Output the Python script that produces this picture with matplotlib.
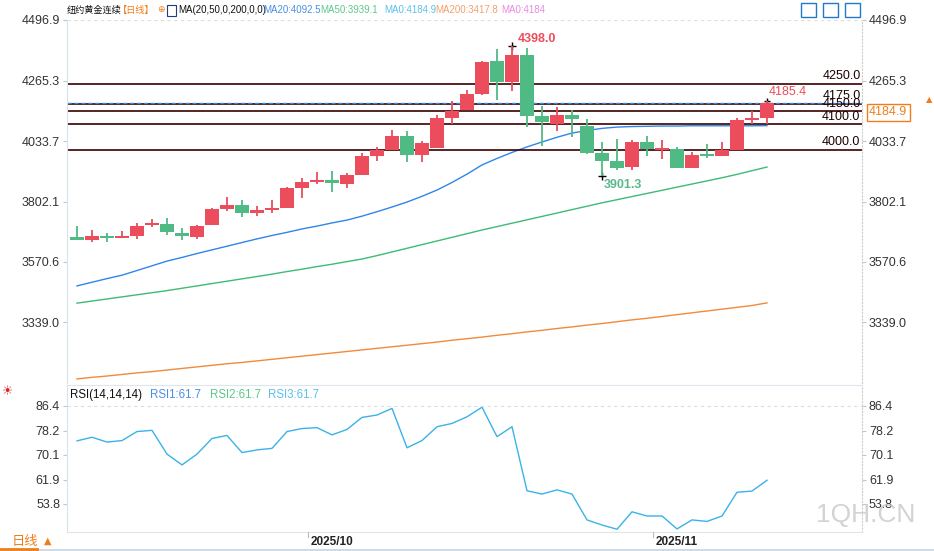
import matplotlib
matplotlib.use("Agg")
import matplotlib.pyplot as plt
from matplotlib import font_manager as fm
import numpy as np

cjk_files = [f for f in fm.findSystemFonts() if "CJK" in f or "cjk" in f.lower()]
cjk_files.sort(key=lambda f: ("Bold" in f or "Black" in f, "Regular" not in f, "SC" not in f, f))
CJKP = fm.FontProperties(fname=cjk_files[0]) if cjk_files else fm.FontProperties(family="Noto Sans CJK SC")
plt.rcParams["font.family"] = ["Liberation Sans", "DejaVu Sans"]

opens  = [3666,3655,3669,3662,3671,3712,3716,3681,3666,3712,3773,3789,3758,3770,3777,3854,3877,3884,3869,3903,
          3976,3999,4053,3980,4007,4122,4152,4214,4340,4260,4363,4130,4099,4133,4091,3988,3957,3934,4030,3999,
          4003,3930,3984,3976,3999,4114,4122]
closes = [3656,3669,3662,3669,3708,3720,3685,3670,3708,3773,3789,3758,3770,3777,3854,3877,3884,3873,3903,3976,
          3999,4053,3980,4026,4122,4149,4214,4337,4260,4363,4130,4107,4133,4118,3988,3957,3930,4030,4003,4007,
          3930,3980,3976,3999,4114,4122,4180]
highs  = [3708,3692,3681,3688,3720,3735,3739,3700,3712,3777,3819,3808,3785,3808,3857,3892,3915,3919,3911,3988,
          4011,4076,4072,4034,4133,4187,4229,4340,4386,4398,4390,4168,4164,4152,4118,4030,4041,4038,4053,4038,
          4011,3992,4022,4030,4122,4149,4185.4]
lows   = [3655,3648,3648,3662,3658,3704,3674,3655,3658,3712,3766,3743,3747,3758,3777,3816,3869,3838,3854,3903,
          3957,3999,3953,3953,4007,4099,4152,4210,4191,4225,4087,4015,4072,4049,3984,3901.3,3923,3923,3976,3965,
          3930,3930,3969,3976,3999,4099,4099]
ma20 = [3479,3493,3507,3520,3538,3556,3574,3588,3603,3617,3631,3645,3659,3672,3684,3697,3708,3720,3731,3746,
        3763,3781,3800,3822,3846,3875,3907,3942,3967,3990,4011,4030,4048,4064,4074,4082,4087,4089,4090,4091,
        4091,4092,4092,4092,4092,4092,4092.5]
ma50 = [3413,3421,3429,3437,3445,3453,3461,3470,3479,3488,3497,3506,3515,3524,3534,3543,3553,3562,3572,3582,
        3595,3609,3623,3637,3651,3665,3679,3693,3706,3719,3732,3745,3758,3771,3784,3797,3809,3821,3833,3845,
        3857,3869,3881,3893,3906,3920,3934]
ma200 = [3123,3129,3134,3140,3146,3151,3157,3163,3169,3175,3181,3186,3192,3198,3204,3210,3216,3222,3228,3234,
         3240,3246,3252,3258,3264,3271,3277,3283,3290,3296,3303,3309,3316,3322,3329,3335,3342,3349,3355,3362,
         3369,3376,3383,3390,3397,3404,3414]
rsi = [74.8,76.0,74.4,74.9,77.9,78.3,70.4,66.8,70.4,75.6,76.6,70.9,71.8,72.3,77.9,78.9,79.2,76.8,78.6,82.6,
       83.4,85.6,72.5,74.9,79.5,80.6,82.8,86.0,76.2,79.5,58.2,57.1,58.5,57.1,48.5,46.8,45.4,51.2,49.8,49.8,
       45.5,48.5,48.0,49.8,57.7,58.1,61.7]
levels = [4250.0, 4175.0, 4150.0, 4100.0, 4000.0]
price_ticks = [4496.9, 4265.3, 4033.7, 3802.1, 3570.6, 3339.0]
rsi_ticks = [86.4, 78.2, 70.1, 61.9, 53.8]
date_labels = ["2025/10", "2025/11"]
date_pos = [16, 39]
last_price = 4184.9

W, H = 934, 551
fig = plt.figure(figsize=(W/100, H/100), dpi=100)
def axrect(x0, y0, x1, y1):
    return [x0/W, 1-y1/H, (x1-x0)/W, (y1-y0)/H]

RED, GREEN = "#eb4d5c", "#4fba84"
xl = ((67-77)/15, (862-77)/15)

ax = fig.add_axes(axrect(67, 20, 862, 383))
ax.set_xlim(*xl)
ax.set_ylim(4496.9-363*3.828, 4496.9)
x = np.arange(len(opens))
cols = [RED if c >= o else GREEN for o, c in zip(opens, closes)]
ax.vlines(x, lows, highs, colors=cols, lw=1.3, zorder=3)
ax.bar(x, [max(abs(c-o), 2) for o, c in zip(opens, closes)], bottom=[min(o, c) for o, c in zip(opens, closes)],
       width=0.87, color=cols, zorder=4)
ax.plot(x, ma20, color="#2f86e8", lw=1)
ax.plot(x, ma50, color="#3dbb74", lw=1)
ax.plot(x, ma200, color="#f08a3c", lw=1)
for lv in levels:
    ax.axhline(lv, color="#3a0000", lw=1.2, zorder=2)
ax.axhline(4180, color="#2f86e8", lw=1, ls=(0, (3, 2)), zorder=2)
ax.axhline(4496.9, color="#dddddd", lw=0.8, ls=(0, (3, 3)))
lab_off = {4250.0: 4, 4175.0: 4, 4150.0: -2, 4100.0: 0, 4000.0: 2}
for lv in levels:
    ax.text(xl[1]-0.1, lv+lab_off[lv]+4, f"{lv:.1f}", ha="right", va="bottom", fontsize=9, color="#1a0000")
ax.plot(29, 4398, marker="+", color="k", ms=6)
ax.text(29.4, 4400, "4398.0", color=RED, fontsize=9, fontweight="bold", va="bottom")
ax.plot(35, 3901.3, marker="+", color="k", ms=6)
ax.text(35.1, 3890, "3901.3", color="#5cb88a", fontsize=9, fontweight="bold", va="top")
ax.plot(46, 4185.4, marker="+", color="k", ms=5)
ax.text(46.1, 4200, "4185.4", color=RED, fontsize=9, va="bottom")
ax.set_yticks(price_ticks)
ax.set_yticklabels([f"{t:.1f}" for t in price_ticks])
ax.tick_params(axis="y", labelleft=True, labelright=True, left=True, right=True, length=3,
               color="#b8c8d8", labelsize=9, labelcolor="#333333", pad=2)
ax.set_xticks([])
for s in ["top", "bottom"]:
    ax.spines[s].set_visible(False)
ax.spines["left"].set_color("#d8e2ea")
ax.spines["right"].set_color("#cccccc")
ax.spines["right"].set_linestyle((0, (1, 2)))

ax2 = fig.add_axes(axrect(67, 385, 862, 532))
ax2.set_xlim(*xl)
ax2.set_ylim(86.4-126*0.3327, 86.4+21*0.3327)
ax2.plot(x, rsi, color="#3bb2e8", lw=1)
ax2.axhline(86.4, color="#dddddd", lw=0.8, ls=(0, (3, 3)))
ax2.set_yticks(rsi_ticks)
ax2.set_yticklabels([f"{t:.1f}" for t in rsi_ticks])
ax2.tick_params(axis="y", labelleft=True, labelright=True, left=True, right=True, length=3,
                color="#b8c8d8", labelsize=9, labelcolor="#333333", pad=2)
ax2.set_xticks([])
ax2.spines["top"].set_color("#dde6ee")
ax2.spines["bottom"].set_color("#dde6ee")
ax2.spines["left"].set_color("#d8e2ea")
ax2.spines["right"].set_color("#cccccc")
ax2.spines["right"].set_linestyle((0, (1, 2)))
fig.text(915/W, 1-515/H, "1QH.CN", ha="right", va="center", fontsize=19, color="#c8c8c8", alpha=0.8)

axd = fig.add_axes(axrect(67, 532, 862, 551))
axd.set_xlim(*xl)
axd.set_ylim(0, 1)
axd.axis("off")
for p, l in zip(date_pos, date_labels):
    axd.plot([p-0.6, p-0.6], [0.75, 1], color="#bbbbbb", lw=0.8)
    axd.text(p-0.4, 0.45, l, fontsize=8.5, fontweight="bold", color="#222222", va="center")
fig.add_artist(plt.Line2D([0, 1], [1.5/H, 1.5/H], color="#c8d4de", lw=1.2))
fig.add_artist(plt.Line2D([0, 37/W], [2/H, 2/H], color="#f07d1a", lw=2))
pb = CJKP.copy(); pb.set_size(9.5)
fig.text(12/W, 1-541/H, "日线", color="#f07d1a", va="center", fontproperties=pb)
fig.text(44/W, 1-541/H, "▲", fontsize=7, color="#f07d1a", va="center", fontfamily="DejaVu Sans")

def t(xp, yp, s, c, size=7, **kw):
    fig.text(xp/W, 1-yp/H, s, color=c, fontsize=size, va="center", **kw)
def tc(xp, yp, s, c, size=6.6):
    p = CJKP.copy(); p.set_size(size)
    fig.text(xp/W, 1-yp/H, s, color=c, va="center", fontproperties=p)
tc(67, 10, "纽约黄金连续", "#111111")
tc(118, 10, "【日线】", "#f07d1a")
t(157, 10, "⊕", "#f07d1a", 6.5, fontfamily="DejaVu Sans")
t(178, 10, "MA(20,50,0,200,0,0)", "#111111")
t(263, 10, "MA20:4092.5", "#4a90e2")
t(320, 10, "MA50:3939.1", "#5cc98a")
t(384, 10, "MA0:4184.9", "#5bc0eb")
t(435, 10, "MA200:3417.8", "#f5a06b")
t(501, 10, "MA0:4184", "#e88be0")
t(70, 395, "RSI(14,14,14)", "#111111", 8.3)
t(150, 395, "RSI1:61.7", "#4a90e2", 8.3)
t(210, 395, "RSI2:61.7", "#5cc98a", 8.3)
t(268, 395, "RSI3:61.7", "#5bc0eb", 8.3)
fig.text(8/W, 1-392/H, "☀", color="#e02020", fontsize=9, va="center", ha="center", fontfamily="DejaVu Sans")
fig.add_artist(plt.Rectangle((167/W, 1-16/H), 9/W, 11/H, fc="white", ec="#1f3a8a", lw=0.8))

fig.text(869/W, 1-112/H, f"{last_price:.1f}", color="#f07d1a", fontsize=9, va="center",
         bbox=dict(boxstyle="square,pad=0.2", fc="white", ec="#f07d1a", lw=1))
fig.text(929/W, 1-100/H, "▲", color="#f07d1a", fontsize=6, va="center", ha="center", fontfamily="DejaVu Sans")

for xi in [801, 823, 845]:
    fig.add_artist(plt.Rectangle((xi/W, 1-17/H), 15/W, 14/H, fc="white", ec="#1f7ac8", lw=1))

fig.savefig("out.png", dpi=100)
